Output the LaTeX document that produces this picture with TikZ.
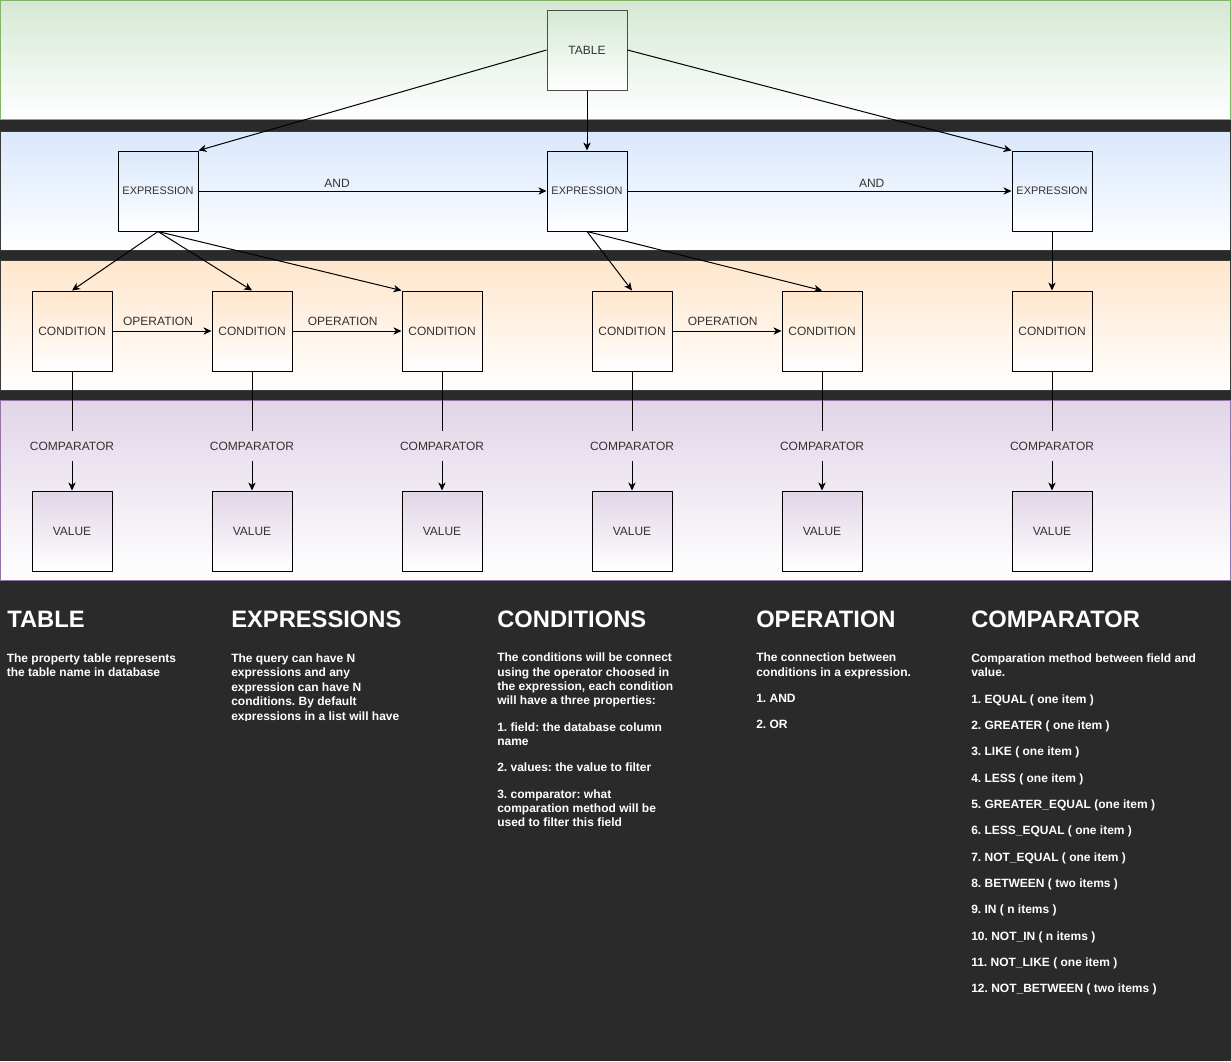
\documentclass[tikz,border=0pt]{standalone}
\usepackage{fontspec}
\setmainfont{Liberation Sans}
\usetikzlibrary{arrows.meta}
\definecolor{bg}{HTML}{2A2A2A}
\definecolor{txt}{HTML}{333333}
\definecolor{greenf}{HTML}{D5E8D4}
\definecolor{greenb}{HTML}{82B366}
\definecolor{bluef}{HTML}{DAE8FC}
\definecolor{orangef}{HTML}{FFE6CC}
\definecolor{purplef}{HTML}{E1D5E7}
\definecolor{purpleb}{HTML}{9673A6}
\definecolor{bandb}{HTML}{3A3A3A}
\frenchspacing
\begin{document}
\begin{tikzpicture}[x=0.75pt,y=-0.75pt,
  box/.style={draw=black, line width=0.75pt, minimum width=60pt, minimum height=60pt,
    inner sep=0pt, text=txt, font=\fontsize{9}{10.8}\selectfont, bottom color=white},
  tablebox/.style={box, draw=black!70, top color=greenf},
  exprbox/.style={box, top color=bluef, font=\fontsize{8.2}{10}\selectfont},
  condbox/.style={box, top color=orangef},
  valbox/.style={box, top color=purplef},
  lab/.style={font=\fontsize{9}{10.8}\selectfont, text=txt, inner sep=0pt},
  cmplab/.style={lab, minimum height=22.5pt},
  arr/.style={-{Stealth[length=6pt,width=5.5pt,inset=1.8pt]}, line width=0.75pt, draw=black},
  plain/.style={line width=0.75pt, draw=black},
  head/.style={font=\fontsize{17.8}{20}\selectfont\bfseries, text=white, inner sep=0pt, anchor=base west},
  bodyt/.style={font=\fontsize{9}{10.8}\selectfont\bfseries, text=white, inner sep=0pt, anchor=base west}
]
% background
\path[fill=bg] (0,0) rectangle (1231,1061);
\useasboundingbox (0,0) rectangle (1231,1061);
% bands
\path[draw=greenb, line width=0.75pt, top color=greenf, bottom color=white] (0.5,0.5) rectangle (1230,119.5);
\path[draw=bandb, line width=0.75pt, top color=bluef, bottom color=white] (0.5,131.5) rectangle (1230,250.5);
\path[draw=bandb, line width=0.75pt, top color=orangef, bottom color=white] (0.5,260.5) rectangle (1230,390.5);
\path[draw=purpleb, line width=0.75pt, top color=purplef, bottom color=white] (0.5,400.5) rectangle (1230,580.5);

% nodes
\node[tablebox] (table) at (587,50) {TABLE};
\node[exprbox] (e1) at (158,191) {EXPRESSION};
\node[exprbox] (e2) at (587,191) {EXPRESSION};
\node[exprbox] (e3) at (1052,191) {EXPRESSION};
\foreach \xx [count=\i] in {72,252,442,632,822,1052}{
  \node[condbox] (c\i) at (\xx,331) {CONDITION};
  \node[cmplab] (k\i) at (\xx,446) {COMPARATOR};
  \node[valbox] (v\i) at (\xx,531) {VALUE};
  \draw[plain] (c\i.south) -- (k\i.north);
  \draw[arr] (k\i.south) -- (v\i.north);
}

% table edges
\draw[arr] (table.west) -- (e1.north east);
\draw[arr] (table.south) -- (e2.north);
\draw[arr] (table.east) -- (e3.north west);

% expression edges
\draw[arr] (e1.east) -- node[lab, pos=0.398, yshift=6pt] (and1) {AND} (e2.west);
\draw[arr] (e2.east) -- node[lab, pos=0.636, yshift=6pt] (and2) {AND} (e3.west);

\draw[arr] (e1.south) -- (c1.north);
\draw[arr] (e1.south) -- (c2.north);
\draw[arr] (e1.south) -- (c3.north west);
\draw[arr] (e2.south) -- (c4.north);
\draw[arr] (e2.south) -- (c5.north);
\draw[arr] (e3.south) -- (c6.north);

% condition edges
\draw[arr] (c1.east) -- node[lab, pos=0.46, yshift=7.5pt] (op1) {OPERATION} (c2.west);
\draw[arr] (c2.east) -- node[lab, pos=0.46, yshift=7pt] (op2) {OPERATION} (c3.west);
\draw[arr] (c4.east) -- node[lab, pos=0.46, yshift=7pt] (op3) {OPERATION} (c5.west);

% bottom texts
\node[head] (h1) at (7,627.3) {TABLE};
\node[head] (h2) at (231,627.3) {EXPRESSIONS};
\node[head] (h3) at (497,627.3) {CONDITIONS};
\node[head] (h4) at (756,627.3) {OPERATION};
\node[head] (h5) at (971,627.3) {COMPARATOR};

\node[bodyt] (t1) at (6.5,662.3) {The property table represents};
\node[bodyt] (t2) at (6.5,676.5) {the table name in database};

\begin{scope}
\clip (200,640) rectangle (480,720.5);
\foreach \yy/\tx [count=\i] in {662.4/{The query can have N},676.8/{expressions and any},691.2/{expression can have N},705.6/{conditions. By default},720/{expressions in a list will have}}{
  \node[bodyt] (x\i) at (231,\yy) {\tx};
}
\end{scope}

\foreach \yy/\tx [count=\i] in {661.8/{The conditions will be connect},676/{using the operator choosed in},690.4/{the expression, each condition},704.6/{will have a three properties:},731.7/{1. field: the database column},745.9/{name},771.7/{2. values: the value to filter},798.3/{3. comparator: what},812.5/{comparation method will be},826.7/{used to filter this field}}{
  \node[bodyt] (cd\i) at (497,\yy) {\tx};
}

\foreach \yy/\tx [count=\i] in {661.8/{The connection between},676/{conditions in a expression.},702.7/{1. AND},728.7/{2. OR}}{
  \node[bodyt] (op\i t) at (756,\yy) {\tx};
}

\node[bodyt] (cm0a) at (971,662) {Comparation method between field and};
\node[bodyt] (cm0b) at (971,676.2) {value.};
\foreach \tx [count=\i] in {{1. EQUAL ( one item )},{2. GREATER ( one item )},{3. LIKE ( one item )},{4. LESS ( one item )},{5. GREATER\_EQUAL (one item )},{6. LESS\_EQUAL ( one item )},{7. NOT\_EQUAL ( one item )},{8. BETWEEN ( two items )},{9. IN ( n items )},{10. NOT\_IN ( n items )},{11. NOT\_LIKE ( one item )},{12. NOT\_BETWEEN ( two items )}}{
  \node[bodyt] (cm\i) at (971,{703.3+26.3*(\i-1)}) {\tx};
}
\end{tikzpicture}
\end{document}
